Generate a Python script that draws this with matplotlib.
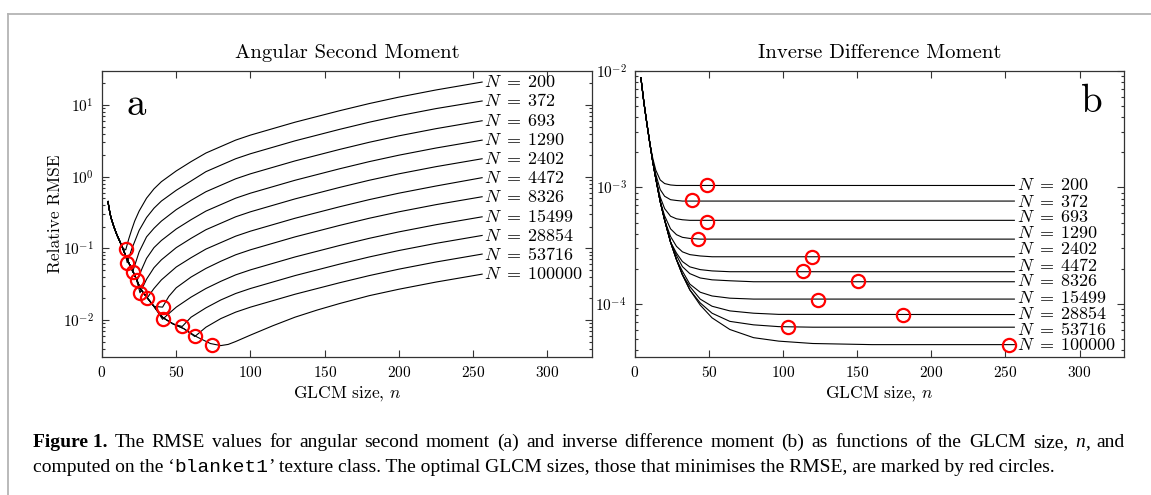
import numpy as np
import matplotlib
matplotlib.use("Agg")
import matplotlib.pyplot as plt
import matplotlib.transforms as mtransforms
from matplotlib.ticker import LogLocator, MultipleLocator, NullFormatter
from matplotlib.lines import Line2D

plt.rcParams["font.family"] = ["cmr10"]
plt.rcParams["mathtext.fontset"] = "cm"
plt.rcParams["axes.formatter.use_mathtext"] = True

W, H = 1151, 495

# ---- data -------------------------------------------------------------
N_vals = [200, 372, 693, 1290, 2402, 4472, 8326, 15499, 28854, 53716, 100000]

# (a) angular second moment: shared falling part, then one rising branch per N
# (rising branches read in log10 units against the decade ticks)
asm_env_n = [4, 5, 6, 8, 10, 12, 14, 16, 18, 20, 23, 26, 30, 35, 41, 48, 55, 64, 73, 80]
asm_env_v = [0.45, 0.34, 0.27, 0.2, 0.155, 0.125, 0.1, 0.078, 0.063, 0.052, 0.038,
             0.027, 0.021, 0.0155, 0.0108, 0.0088, 0.0076, 0.0058, 0.0047, 0.0044]

asm_n = [
    [16, 18, 20, 22, 25, 30, 35, 40, 50, 60, 70, 80, 90, 100, 115, 130, 145, 160, 180, 200, 225, 256],
    [17, 20, 25, 30, 35, 40, 50, 60, 70, 80, 90, 100, 115, 130, 145, 160, 180, 200, 225, 256],
    [20.6, 25, 30, 35, 40, 50, 60, 70, 80, 90, 100, 115, 130, 145, 160, 180, 200, 225, 256],
    [23.8, 27, 30, 35, 40, 50, 60, 70, 80, 90, 100, 115, 130, 145, 160, 180, 200, 225, 256],
    [25.6, 30, 35, 40, 50, 60, 70, 80, 90, 100, 115, 130, 145, 160, 180, 200, 225, 256],
    [30.5, 35, 40, 50, 60, 70, 80, 90, 100, 115, 130, 145, 160, 180, 200, 225, 256],
    [40.8, 45, 50, 60, 70, 80, 90, 100, 115, 130, 145, 160, 180, 200, 225, 256],
    [40.8, 45, 50, 60, 70, 80, 90, 100, 115, 130, 145, 160, 180, 200, 225, 256],
    [54, 60, 70, 80, 90, 100, 115, 130, 145, 160, 180, 200, 225, 256],
    [62.5, 70, 80, 90, 100, 115, 130, 145, 160, 180, 200, 225, 256],
    [85, 90, 100, 115, 130, 145, 160, 180, 200, 225, 256],
]
asm_logv = [
    [-1.02, -0.87, -0.74, -0.62, -0.48, -0.30, -0.17, -0.07, 0.08, 0.21, 0.33, 0.42, 0.51,
     0.58, 0.67, 0.76, 0.84, 0.92, 1.02, 1.11, 1.21, 1.32],
    [-1.2, -1.01, -0.75, -0.57, -0.44, -0.34, -0.19, -0.06, 0.07, 0.16, 0.25, 0.32, 0.41,
     0.5, 0.58, 0.66, 0.76, 0.85, 0.95, 1.056],
    [-1.33, -1.05, -0.84, -0.72, -0.62, -0.46, -0.33, -0.21, -0.12, -0.03, 0.04, 0.13,
     0.22, 0.3, 0.38, 0.48, 0.57, 0.67, 0.78],
    [-1.44, -1.28, -1.14, -0.99, -0.89, -0.73, -0.6, -0.48, -0.39, -0.3, -0.23, -0.14,
     -0.05, 0.03, 0.11, 0.21, 0.3, 0.4, 0.51],
    [-1.62, -1.43, -1.27, -1.16, -0.99, -0.86, -0.74, -0.65, -0.56, -0.49, -0.4, -0.31,
     -0.23, -0.15, -0.05, 0.04, 0.14, 0.25],
    [-1.69, -1.56, -1.44, -1.26, -1.13, -1.01, -0.92, -0.83, -0.76, -0.67, -0.58, -0.5,
     -0.42, -0.32, -0.23, -0.13, -0.014],
    [-1.82, -1.67, -1.55, -1.4, -1.28, -1.18, -1.09, -1.02, -0.93, -0.84, -0.76, -0.68,
     -0.58, -0.49, -0.39, -0.28],
    [-1.99, -1.91, -1.82, -1.68, -1.56, -1.46, -1.37, -1.3, -1.21, -1.12, -1.04, -0.96,
     -0.86, -0.77, -0.67, -0.56],
    [-2.09, -1.96, -1.83, -1.72, -1.63, -1.56, -1.47, -1.38, -1.3, -1.22, -1.12, -1.03,
     -0.93, -0.82],
    [-2.23, -2.1, -1.98, -1.89, -1.82, -1.73, -1.64, -1.56, -1.48, -1.38, -1.29, -1.19, -1.08],
    [-2.34, -2.3, -2.21, -2.08, -1.96, -1.86, -1.77, -1.66, -1.57, -1.47, -1.36],
]
asm_opt_n = [15.9, 17.0, 20.6, 23.8, 25.6, 30.5, 40.8, 40.8, 54, 62.5, 73.8]
asm_opt_v = [0.099, 0.063, 0.047, 0.036, 0.0237, 0.0204, 0.0153, 0.0102, 0.0082, 0.0059, 0.0045]

# (b) inverse difference moment: shared falling part (= N=100000), then a plateau per N
idm_env_n = [4, 6, 8, 10, 12, 14, 17, 20, 24, 28, 32, 37, 44, 52, 64, 80, 97, 120, 160, 200, 256]
idm_env_v = [8.71e-3, 5.37e-3, 3.55e-3, 2.4e-3, 1.66e-3, 1.2e-3, 7.59e-4, 5.25e-4, 3.39e-4,
             2.4e-4, 1.78e-4, 1.32e-4, 9.77e-5, 7.59e-5, 6.03e-5, 5.13e-5, 4.79e-5, 4.57e-5,
             4.47e-5, 4.47e-5, 4.47e-5]

idm_n = [
    [12, 14, 17, 20, 24, 28, 256],
    [14, 17, 20, 24, 28, 32, 256],
    [17, 20, 24, 28, 32, 37, 256],
    [20, 24, 28, 32, 37, 44, 256],
    [24, 28, 32, 37, 44, 52, 256],
    [28, 32, 37, 44, 52, 64, 256],
    [28, 32, 37, 44, 52, 64, 80, 256],
    [32, 37, 44, 52, 64, 80, 256],
    [37, 44, 52, 64, 80, 97, 256],
    [44, 52, 64, 80, 97, 120, 256],
    [],
]
idm_v = [
    [1.78e-3, 1.41e-3, 1.16e-3, 1.08e-3, 1.05e-3, 1.04e-3, 1.04e-3],
    [1.3e-3, 9.6e-4, 8.4e-4, 7.85e-4, 7.73e-4, 7.64e-4, 7.64e-4],
    [8.28e-4, 6.58e-4, 5.66e-4, 5.38e-4, 5.28e-4, 5.22e-4, 5.22e-4],
    [5.7e-4, 4.41e-4, 3.93e-4, 3.73e-4, 3.65e-4, 3.6e-4, 3.6e-4],
    [3.79e-4, 3.12e-4, 2.8e-4, 2.65e-4, 2.58e-4, 2.54e-4, 2.54e-4],
    [2.73e-4, 2.31e-4, 2.08e-4, 1.97e-4, 1.92e-4, 1.89e-4, 1.89e-4],
    [2.61e-4, 2.09e-4, 1.82e-4, 1.67e-4, 1.61e-4, 1.58e-4, 1.55e-4, 1.55e-4],
    [1.91e-4, 1.48e-4, 1.26e-4, 1.17e-4, 1.12e-4, 1.1e-4, 1.1e-4],
    [1.41e-4, 1.1e-4, 9.55e-5, 8.71e-5, 8.32e-5, 8.13e-5, 8.1e-5],
    [1.02e-4, 8.32e-5, 7.08e-5, 6.61e-5, 6.38e-5, 6.31e-5, 6.31e-5],
    [],
]
idm_opt_n = [48.3, 38.7, 48.5, 42.3, 119.2, 113.2, 150.8, 123.2, 181, 103.2, 252.3]
idm_opt_v = [1.04e-3, 7.74e-4, 5.09e-4, 3.6e-4, 2.54e-4, 1.9e-4, 1.56e-4, 1.09e-4, 8.1e-5, 6.3e-5, 4.47e-5]


def full_curve(env_n, env_v, n, v):
    if len(n) == 0:
        return list(env_n), list(env_v)
    xs = [x for x in env_n if x < n[0]] + list(n)
    ys = [y for x, y in zip(env_n, env_v) if x < n[0]] + list(v)
    return xs, ys


def style_axes(ax, ylim):
    ax.set_yscale("log")
    ax.set_xlim(0, 330)
    ax.set_ylim(*ylim)
    ax.xaxis.set_major_locator(MultipleLocator(50))
    ax.yaxis.set_major_locator(LogLocator(base=10, numticks=20))
    ax.yaxis.set_minor_locator(LogLocator(base=10, subs=np.arange(2, 10), numticks=20))
    ax.yaxis.set_minor_formatter(NullFormatter())
    ax.tick_params(which="both", direction="in", top=True, right=True,
                   width=0.8, color="#333333", labelsize=11, pad=6)
    ax.tick_params(which="major", length=5)
    ax.tick_params(which="minor", length=2.5)
    for s in ax.spines.values():
        s.set_linewidth(0.9)
        s.set_color("#333333")
    ax.set_xlabel("GLCM size, $n$", fontsize=12.5, labelpad=3)


def n_label(N):
    return r"$N\;=\;%d$" % N


fig = plt.figure(figsize=(W / 100, H / 100), dpi=100)

ax1 = fig.add_axes([102 / W, 1 - 357 / H, 490 / W, 286 / H])
ax2 = fig.add_axes([635 / W, 1 - 357 / H, 489 / W, 286 / H])

# panel a
for i, N in enumerate(N_vals):
    rise_v = list(10 ** np.array(asm_logv[i]))
    xs, ys = full_curve(asm_env_n, asm_env_v, asm_n[i], rise_v)
    ax1.plot(xs, ys, color="black", lw=0.8)
    ax1.text(xs[-1] + 1, ys[-1], n_label(N), fontsize=13, ha="left", va="center")
ax1.plot(asm_opt_n, asm_opt_v, "o", ls="none", mfc="none", mec="red", ms=9.5, mew=1.6, zorder=4)
style_axes(ax1, (3.05e-3, 29.8))
ax1.set_ylabel("Relative RMSE", fontsize=12.5, labelpad=0)
ax1.set_title("Angular Second Moment", fontsize=14.8, pad=9)
ax1.text(0.07, 0.88, "a", transform=ax1.transAxes, fontsize=28, ha="center", va="center")

# panel b
trans_b = mtransforms.blended_transform_factory(ax2.transData, ax2.transAxes)
for i, N in enumerate(N_vals):
    xs, ys = full_curve(idm_env_n, idm_env_v, idm_n[i], idm_v[i])
    ax2.plot(xs, ys, color="black", lw=0.8)
    ax2.text(xs[-1] + 1.5, 0.601 - 0.0559 * i, n_label(N), fontsize=13,
             ha="left", va="center", transform=trans_b)
ax2.plot(idm_opt_n, idm_opt_v, "o", ls="none", mfc="none", mec="red", ms=9.5, mew=1.6, zorder=4)
style_axes(ax2, (3.5e-5, 1e-2))
ax2.set_title("Inverse Difference Moment", fontsize=14.8, pad=9)
ax2.text(0.935, 0.89, "b", transform=ax2.transAxes, fontsize=28, ha="center", va="center")

# frame of the figure box
grey = "#b4b4b4"
fig.add_artist(Line2D([8 / W, 1], [1 - 14 / H, 1 - 14 / H], transform=fig.transFigure, color=grey, lw=1.3))
fig.add_artist(Line2D([8 / W, 8 / W], [1 - 14 / H, 0], transform=fig.transFigure, color=grey, lw=1.3))

# caption
renderer = fig.canvas.get_renderer()
cap_size = 14
serif = "Liberation Serif"
reg = dict(family=serif)
ital = dict(family=serif, style="italic")
bold = dict(family=serif, weight="bold")


def put_justified(tokens, x0, x1, y_px):
    # tokens: (text, style, gap_before)
    texts = [fig.text(0, 1 - y_px / H, s, fontsize=cap_size, va="baseline", ha="left", **kw)
             for s, kw, _ in tokens]
    widths = [t.get_window_extent(renderer).width for t in texts]
    n_gaps = sum(1 for _, _, g in tokens[1:] if g)
    gap = (x1 - x0 - sum(widths)) / n_gaps
    x = x0
    for (s, kw, g), t, w in zip(tokens, texts, widths):
        if g and t is not texts[0]:
            x += gap
        t.set_x(x / W)
        x += w


def put_line(pieces, x_px, y_px):
    x = x_px / W
    for s, kw in pieces:
        t = fig.text(x, 1 - y_px / H, s, fontsize=cap_size, va="baseline", ha="left", **kw)
        x += t.get_window_extent(renderer).width / W


line1 = [("Figure 1.", bold, True)]
words = ("The RMSE values for angular second moment (a) and inverse difference "
         "moment (b) as functions of the GLCM size,").split()
line1 += [(w, reg, True) for w in words]
line1 += [("n", ital, True), (",", reg, False), ("and", reg, True)]
put_justified(line1, 33, 1125, 447)

put_line([
    ("computed on the \u2018", reg),
    ("blanket1", dict(family="Liberation Mono")),
    ("\u2019 texture class. The optimal GLCM sizes, those that minimises the RMSE, "
     "are marked by red circles.", reg),
], 33, 472)

fig.savefig("out.png", dpi=100)
